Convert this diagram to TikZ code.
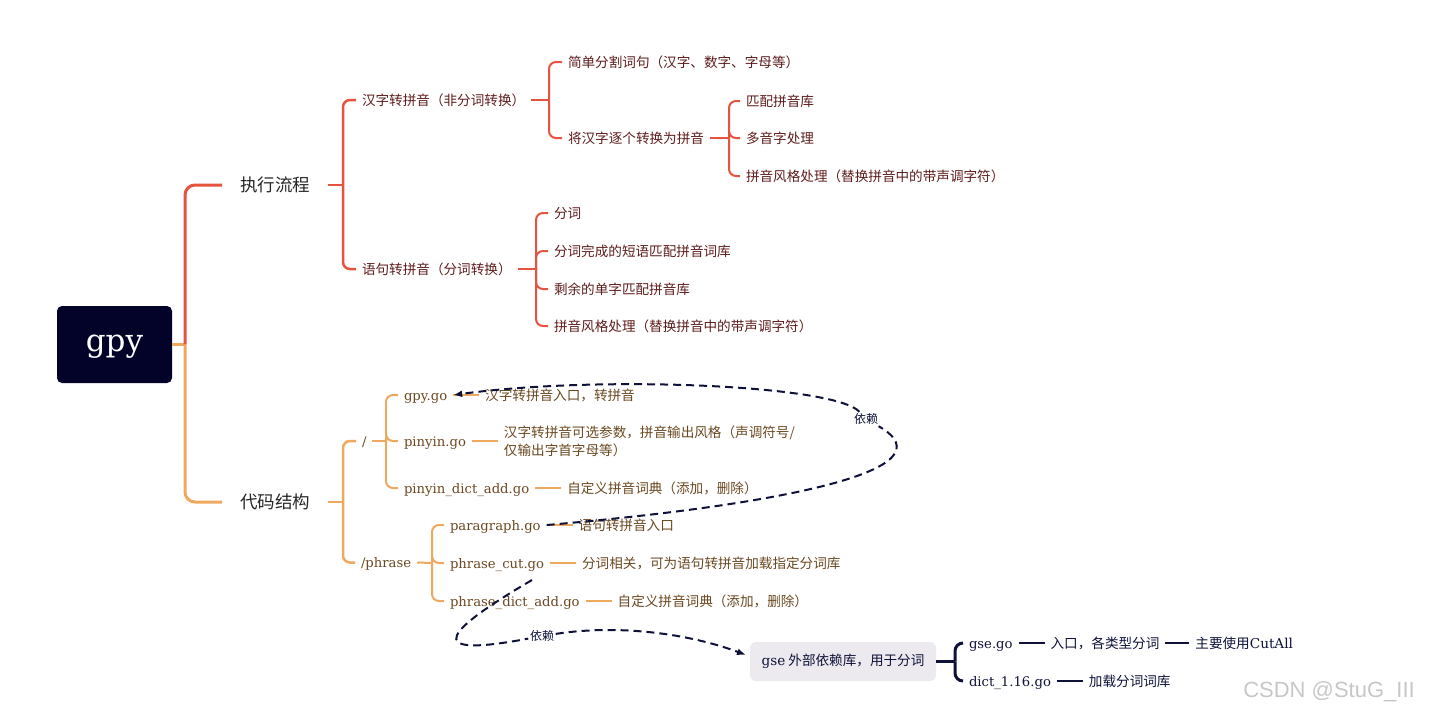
\documentclass[tikz,border=0pt]{standalone}
\usepackage{fontspec}
\setmainfont{DejaVu Serif}
\newfontfamily\cjk{Noto Sans CJK SC}
\newfontfamily\wmark{Liberation Sans}
\usetikzlibrary{arrows.meta,positioning,calc}
\definecolor{rootbg}{HTML}{03032A}
\definecolor{redln}{HTML}{E6533F}
\definecolor{redtx}{HTML}{5E1C1C}
\definecolor{orgln}{HTML}{EFA95E}
\definecolor{orgtx}{HTML}{6A4821}
\definecolor{navy}{HTML}{0E1238}
\definecolor{gsebg}{HTML}{ECEAEE}
\newcommand\rmpart[1]{{\rmfamily #1}}

\begin{document}
\begin{tikzpicture}[x=1pt,y=-1pt,>=Latex,
  topic/.style={inner sep=0pt,outer xsep=18pt,font=\cjk\fontsize{17.5}{20}\selectfont,text=black!85},
  leaf/.style={anchor=west,inner sep=0pt,outer xsep=6pt,text height=12pt,text depth=2pt,font=\cjk\fontsize{13.6}{18}\selectfont},
  redleaf/.style={leaf,text=redtx},
  orgleaf/.style={leaf,text=orgtx},
  navyleaf/.style={leaf,text=navy},
  file/.style={leaf,font=\rmfamily\fontsize{13.2}{16}\selectfont,text=orgtx},
  redbr/.style={draw=redln,line width=2pt,rounded corners=7pt},
  orgbr/.style={draw=orgln,line width=2pt,rounded corners=7pt},
  navybr/.style={draw=navy,line width=2pt,rounded corners=8pt},
  dep/.style={draw=navy,line width=2pt,dash pattern=on 8pt off 5pt,->,>={Latex[length=9pt,width=7pt]}},
  deplab/.style={fill=white,inner sep=1.5pt,font=\cjk\fontsize{12}{14}\selectfont,text=navy}]
\useasboundingbox (0,0) rectangle (1450,721);

% root and the two main topics
\node[fill=rootbg,rounded corners=5pt,minimum width=115pt,minimum height=77pt,text height=18pt,text depth=4pt,text=white,font=\rmfamily\fontsize{31}{33}\selectfont] (root) at (114.5,344.5) {gpy};
\node[topic] (m1) at (275,185) {执行流程};
\node[topic] (m2) at (275,502) {代码结构};
\coordinate (j0) at (185,344.5);
\draw[orgbr,line width=3pt] (root.east) -- (j0);
\draw[redbr,line width=3pt,rounded corners=10pt] (j0) |- (m1.west);
\draw[orgbr,line width=3pt,rounded corners=10pt] (j0) |- (m2.west);

% 执行流程
\coordinate (j1) at (343,185);
\draw[redbr,line width=2.5pt] (m1.east) -- (j1);
\node[redleaf] (a1) at (356,100) {汉字转拼音（非分词转换）};
\node[redleaf] (a2) at (356,269) {语句转拼音（分词转换）};
\foreach \n in {a1,a2} \draw[redbr,line width=2.5pt] (j1) |- (\n.west);

\coordinate (j2) at (549,100);
\draw[redbr] (a1.east) -- (j2);
\foreach \n/\y/\t in {b1/62/简单分割词句（汉字、数字、字母等）,b2/138/将汉字逐个转换为拼音}{
  \node[redleaf] (\n) at (562,\y) {\t};
  \draw[redbr] (j2) |- (\n.west);}

\coordinate (j3) at (729,138);
\draw[redbr] (b2.east) -- (j3);
\foreach \n/\y/\t in {c1/101/匹配拼音库,c2/138/多音字处理,c3/176/拼音风格处理（替换拼音中的带声调字符）}{
  \node[redleaf] (\n) at (740,\y) {\t};
  \draw[redbr] (j3) |- (\n.west);}

\coordinate (j4) at (536,269);
\draw[redbr] (a2.east) -- (j4);
\foreach \n/\y/\t in {d1/213/分词,d2/251/分词完成的短语匹配拼音词库,d3/289/剩余的单字匹配拼音库,d4/326/拼音风格处理（替换拼音中的带声调字符）}{
  \node[redleaf] (\n) at (548,\y) {\t};
  \draw[redbr] (j4) |- (\n.west);}

% 代码结构
\coordinate (j5) at (343,502);
\draw[orgbr,line width=2.5pt] (m2.east) -- (j5);
\node[file] (e1) at (356,441) {/};
\node[file] (e2) at (355,562.5) {/phrase};
\foreach \n in {e1,e2} \draw[orgbr,line width=2.5pt] (j5) |- (\n.west);

\coordinate (j6) at (386,441);
\draw[orgbr] (e1.east) -- (j6);
\foreach \n/\y/\t in {f1/395/gpy.go,f2/441/pinyin.go,f3/488/pinyin\_dict\_add.go}{
  \node[file] (\n) at (398,\y) {\t};
  \draw[orgbr] (j6) |- (\n.west);}
\node[orgleaf,right=26pt of f1] (g1) {汉字转拼音入口，转拼音};
\node[orgleaf,right=26pt of f2,align=left,text height=,text depth=] (g2) {汉字转拼音可选参数，拼音输出风格（声调符号/\\仅输出字首字母等）};
\node[orgleaf,right=26pt of f3] (g3) {自定义拼音词典（添加，删除）};
\foreach \n in {1,2,3} \draw[orgbr] (f\n.east) -- (g\n.west);

\coordinate (j7) at (432,563);
\draw[orgbr] (e2.east) -- (j7);
\foreach \n/\y/\t in {h1/525/paragraph.go,h2/563/phrase\_cut.go,h3/601/phrase\_dict\_add.go}{
  \node[file] (\n) at (444,\y) {\t};
  \draw[orgbr] (j7) |- (\n.west);}
\node[orgleaf,right=26pt of h1] (k1) {语句转拼音入口};
\node[orgleaf,right=26pt of h2] (k2) {分词相关，可为语句转拼音加载指定分词库};
\node[orgleaf,right=26pt of h3] (k3) {自定义拼音词典（添加，删除）};
\foreach \n in {1,2,3} \draw[orgbr] (h\n.east) -- (k\n.west);

% gse
\node[fill=gsebg,rounded corners=6pt,minimum width=186pt,minimum height=39pt,inner sep=0pt,font=\cjk\fontsize{13.6}{16}\selectfont,text=navy] (gse) at (843,661.5) {\rmpart{gse} 外部依赖库，用于分词};
\coordinate (j8) at (955,661.5);
\draw[navybr,line width=3pt] (gse.east) -- (j8);
\node[file,text=navy] (l1) at (963,643) {gse.go};
\node[file,text=navy] (l2) at (963,681) {dict\_1.16.go};
\foreach \n in {l1,l2} \draw[navybr,line width=3pt] (j8) |- (\n.west);
\node[navyleaf,right=26pt of l1] (p1) {入口，各类型分词};
\node[navyleaf,right=24pt of p1] (p2) {主要使用\rmpart{CutAll}};
\node[navyleaf,right=26pt of l2] (p3) {加载分词词库};
\draw[navybr] (l1.east) -- (p1.west);
\draw[navybr] (p1.east) -- (p2.west);
\draw[navybr] (l2.east) -- (p3.west);

% 依赖
\node[deplab] (dl1) at (866,419) {依赖};
\draw[dep] (h1.east) .. controls (780,505) and (955,470) .. (dl1) .. controls (835,385) and (600,375) .. (f1.east);
\coordinate (cutdep) at (532,580);
\coordinate (gsein) at (746,655);
\node[deplab] (dl2) at (542,636) {依赖};
\draw[dep] (cutdep) .. controls (450,628) and (415,660) .. (dl2) .. controls (620,624) and (690,634) .. (gsein);

\node[font=\wmark\fontsize{22}{24}\selectfont,text=black!22] (wm) at (1329,692) {CSDN @StuG\_III};
\end{tikzpicture}
\end{document}
